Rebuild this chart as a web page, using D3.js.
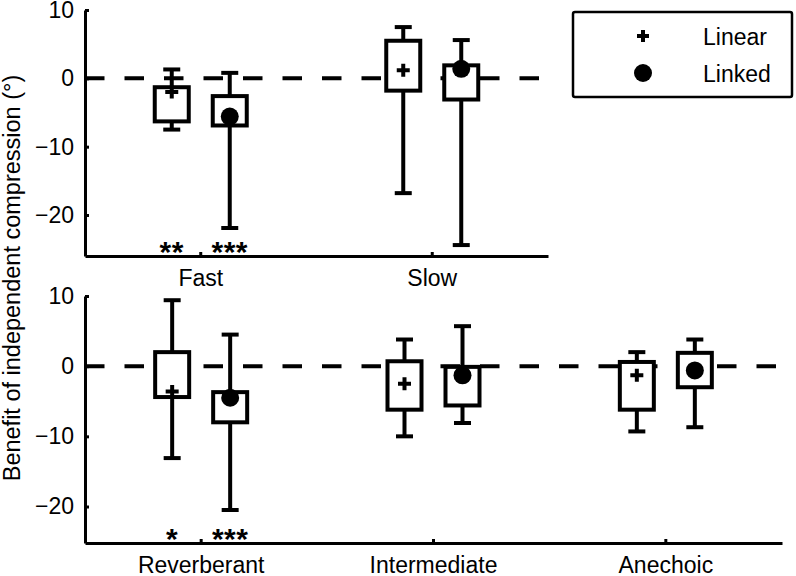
<!DOCTYPE html>
<html>
<head>
<meta charset="utf-8">
<script src="https://cdn.jsdelivr.net/npm/d3@7/dist/d3.min.js"></script>
<style>
  body { margin: 0; background: #fff; }
  svg { font-family: "Liberation Sans", Arial, Helvetica, sans-serif; }
  .axis path, .axis line { stroke: #000; stroke-width: 3; }
  .axis text { font-size: 23px; fill: #000; }
</style>
</head>
<body>
<div id="chart"></div>
<script>
// series names
var seriesNames = ["Linear", "Linked"];

// top panel: compression speed
var topCategories = ["Fast", "Slow"];
var topLinearHigh   = [1.3, 7.5];
var topLinearQ3     = [-1.3, 5.5];
var topLinearQ1     = [-6.3, -1.8];
var topLinearLow    = [-7.5, -16.8];
var topLinearMean   = [-2.0, 1.2];
var topLinkedHigh   = [0.8, 5.6];
var topLinkedQ3     = [-2.6, 1.9];
var topLinkedQ1     = [-6.9, -3.1];
var topLinkedLow    = [-21.9, -24.4];
var topLinkedMean   = [-5.6, 1.4];
var topLinearSig    = ["**", ""];
var topLinkedSig    = ["***", ""];

// bottom panel: room
var bottomCategories = ["Reverberant", "Intermediate", "Anechoic"];
var botLinearHigh   = [9.4, 3.8, 2.0];
var botLinearQ3     = [2.0, 0.7, 0.6];
var botLinearQ1     = [-4.4, -6.2, -6.2];
var botLinearLow    = [-13.1, -10.0, -9.3];
var botLinearMean   = [-3.6, -2.5, -1.3];
var botLinkedHigh   = [4.5, 5.7, 3.8];
var botLinkedQ3     = [-3.7, -0.1, 1.9];
var botLinkedQ1     = [-8.0, -5.6, -3.0];
var botLinkedLow    = [-20.5, -8.1, -8.7];
var botLinkedMean   = [-4.5, -1.3, -0.6];
var botLinearSig    = ["*", "", ""];
var botLinkedSig    = ["***", "", ""];

var yTicks = [10, 0, -10, -20];

var width = 796, height = 576;
var svg = d3.select("#chart").append("svg")
    .attr("width", width)
    .attr("height", height);

// y label
svg.append("text")
    .attr("transform", "translate(19.5,278) rotate(-90)")
    .attr("text-anchor", "middle")
    .style("font-size", "23.5px")
    .text("Benefit of independent compression (\u00b0)");

function makeRows(cats, high, q3, q1, low, mean, sig, series) {
  return cats.map(function(c, i) {
    return { cat: c, series: series, high: high[i], q3: q3[i], q1: q1[i], low: low[i], mean: mean[i], sig: sig[i] };
  });
}

function drawPanel(cats, rows, xRange, yDomain, yRange) {
  var x = d3.scaleBand().domain(cats).range(xRange).padding(0);
  var off = d3.scalePoint().domain(seriesNames).range([-29, 29]);
  var y = d3.scaleLinear().domain(yDomain).range(yRange);
  var g = svg.append("g");

  var cx = function(d) { return x(d.cat) + x.bandwidth() / 2 + off(d.series); };

  g.append("g")
      .attr("class", "axis")
      .attr("transform", "translate(" + xRange[0] + ",0)")
      .call(d3.axisLeft(y).tickValues(yTicks).tickSizeInner(-4).tickSizeOuter(0).tickPadding(11));

  g.append("g")
      .attr("class", "axis")
      .attr("transform", "translate(0," + yRange[0] + ")")
      .call(d3.axisBottom(x).tickSizeInner(-4).tickSizeOuter(0).tickPadding(14));

  // zero reference
  g.append("line")
      .attr("x1", xRange[0]).attr("x2", xRange[1])
      .attr("y1", y(0)).attr("y2", y(0))
      .attr("stroke", "#000")
      .attr("stroke-width", 4)
      .attr("stroke-dasharray", "19.5,20");

  var box = g.selectAll("g.box").data(rows).enter().append("g").attr("class", "box");

  box.append("line")
      .attr("x1", cx).attr("x2", cx)
      .attr("y1", function(d) { return y(d.high); })
      .attr("y2", function(d) { return y(d.low); })
      .attr("stroke", "#000").attr("stroke-width", 4);

  ["high", "low"].forEach(function(k) {
    box.append("line")
        .attr("x1", function(d) { return cx(d) - 8.5; })
        .attr("x2", function(d) { return cx(d) + 8.5; })
        .attr("y1", function(d) { return y(d[k]); })
        .attr("y2", function(d) { return y(d[k]); })
        .attr("stroke", "#000").attr("stroke-width", 4);
  });

  box.append("rect")
      .attr("x", function(d) { return cx(d) - 17; })
      .attr("width", 34)
      .attr("y", function(d) { return y(d.q3); })
      .attr("height", function(d) { return y(d.q1) - y(d.q3); })
      .attr("fill", "#fff")
      .attr("stroke", "#000").attr("stroke-width", 4);

  box.filter(function(d) { return d.series == "Linear"; })
    .append("path")
      .attr("d", function(d) {
        var px = cx(d), py = y(d.mean);
        return "M" + (px - 6.5) + "," + py + "H" + (px + 6.5) + "M" + px + "," + (py - 6.5) + "V" + (py + 6.5);
      })
      .attr("stroke", "#000").attr("stroke-width", 4);

  box.filter(function(d) { return d.series == "Linked"; })
    .append("circle")
      .attr("cx", cx)
      .attr("cy", function(d) { return y(d.mean); })
      .attr("r", 9);

  // significance stars
  box.append("text")
      .attr("x", cx)
      .attr("y", yRange[0] + 6)
      .attr("text-anchor", "middle")
      .style("font-size", "30px")
      .style("font-weight", "bold")
      .style("letter-spacing", "0.5px")
      .text(function(d) { return d.sig; });
}

drawPanel(topCategories,
  makeRows(topCategories, topLinearHigh, topLinearQ3, topLinearQ1, topLinearLow, topLinearMean, topLinearSig, "Linear")
    .concat(makeRows(topCategories, topLinkedHigh, topLinkedQ3, topLinkedQ1, topLinkedLow, topLinkedMean, topLinkedSig, "Linked")),
  [85, 548], [-26, 10], [256, 10]);

drawPanel(bottomCategories,
  makeRows(bottomCategories, botLinearHigh, botLinearQ3, botLinearQ1, botLinearLow, botLinearMean, botLinearSig, "Linear")
    .concat(makeRows(bottomCategories, botLinkedHigh, botLinkedQ3, botLinkedQ1, botLinkedLow, botLinkedMean, botLinkedSig, "Linked")),
  [85, 782], [-25.2, 10], [543, 296]);

// legend
var legend = svg.append("g");
legend.append("rect")
    .attr("x", 573).attr("y", 12)
    .attr("width", 219).attr("height", 85)
    .attr("rx", 2)
    .attr("fill", "#fff")
    .attr("stroke", "#000").attr("stroke-width", 2.5);
legend.append("path")
    .attr("d", "M637,36H649M643,30V42")
    .attr("stroke", "#000").attr("stroke-width", 4);
legend.append("circle").attr("cx", 643).attr("cy", 73).attr("r", 9);
legend.selectAll("text.lab").data(seriesNames).enter().append("text")
    .attr("class", "lab")
    .attr("x", 703)
    .attr("y", function(d, i) { return i == 0 ? 45 : 81.5; })
    .style("font-size", "23px")
    .text(function(d) { return d; });
</script>
</body>
</html>
